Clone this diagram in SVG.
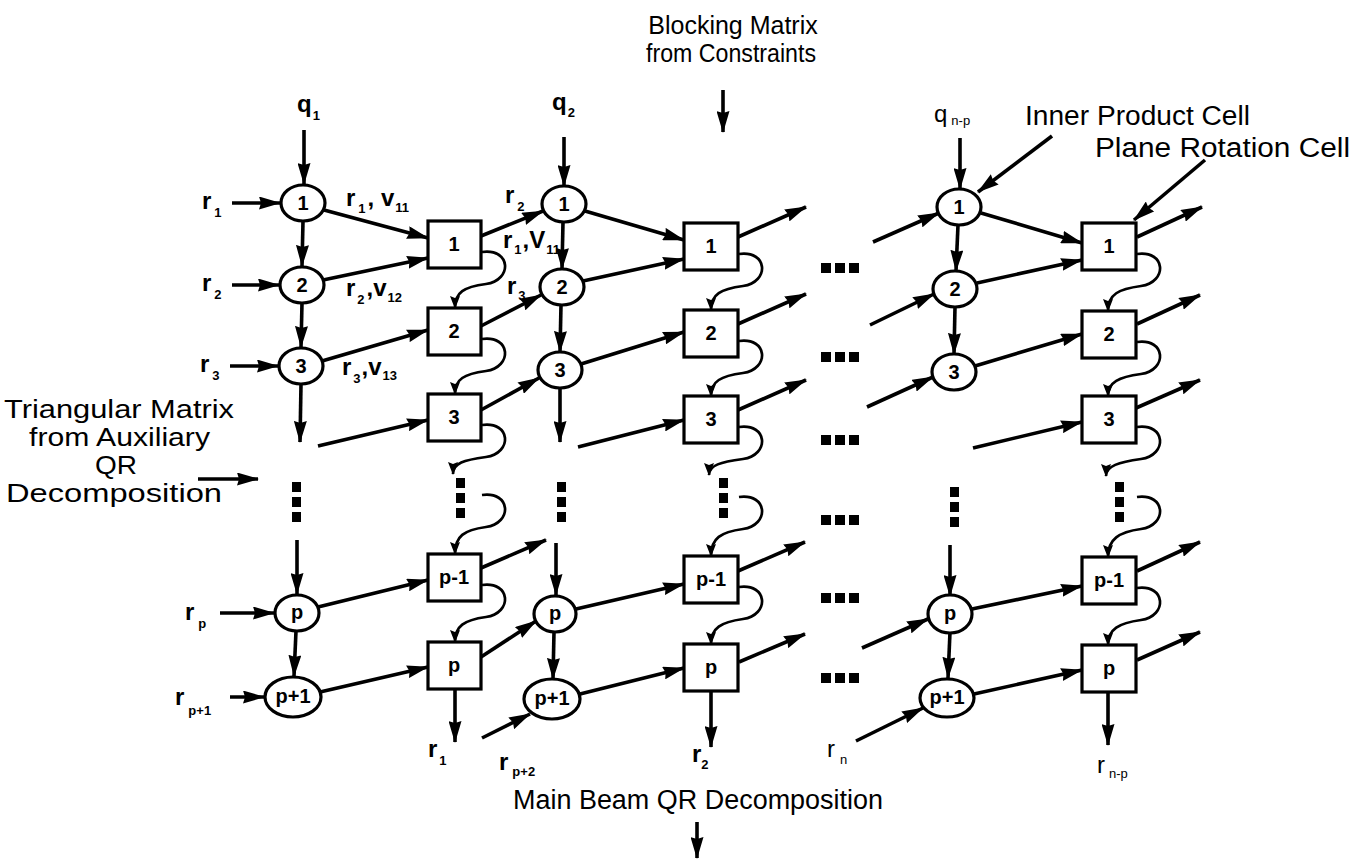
<svg xmlns="http://www.w3.org/2000/svg" width="1365" height="862" viewBox="0 0 1365 862">
<defs>
<marker id="ah" viewBox="0 0 22 13" markerWidth="22" markerHeight="13" refX="21" refY="6.5" orient="auto" markerUnits="userSpaceOnUse"><path d="M0,0 L22,6.5 L0,13 L2,6.5 Z" fill="#000"/></marker>
<marker id="as" viewBox="0 0 13 10" markerWidth="13" markerHeight="10" refX="12" refY="5" orient="auto" markerUnits="userSpaceOnUse"><path d="M0,0 L13,5 L0,10 L2,5 Z" fill="#000"/></marker>
<style>
.ln{stroke:#000;stroke-width:3.6;fill:none;marker-end:url(#ah)}
.cu{stroke:#000;stroke-width:2.7;fill:none;marker-end:url(#as)}
.nd{fill:#fff;stroke:#000;stroke-width:3.2}
.nl{font-family:"Liberation Sans",Arial,sans-serif;font-weight:bold;font-size:20px;text-anchor:middle}
.sy{font-family:"Liberation Sans",Arial,sans-serif;font-weight:bold;font-size:24px}
.sb{font-size:13px}
.tx{font-family:"Liberation Sans",Arial,sans-serif;font-size:26px}
.ts{font-family:"Liberation Sans",Arial,sans-serif;font-size:25px}
.tm{text-anchor:middle}
.dt{fill:#000}
</style>
</defs>
<rect width="1365" height="862" fill="#fff"/>

<g id="labels">
<text class="ts tm" x="733" y="34">Blocking Matrix</text>
<text class="ts tm" x="731" y="62" textLength="170" lengthAdjust="spacingAndGlyphs">from Constraints</text>
<text class="tx" x="1025" y="125" style="font-size:27px" textLength="225" lengthAdjust="spacingAndGlyphs">Inner Product Cell</text>
<text class="tx" x="1095" y="157" style="font-size:27px" textLength="255" lengthAdjust="spacingAndGlyphs">Plane Rotation Cell</text>
<text class="ts" x="4" y="418" textLength="230" lengthAdjust="spacingAndGlyphs">Triangular Matrix</text>
<text class="ts" x="29" y="446" textLength="181" lengthAdjust="spacingAndGlyphs">from Auxiliary</text>
<text class="ts" x="95" y="474" textLength="42" lengthAdjust="spacingAndGlyphs">QR</text>
<text class="ts" x="6" y="502" textLength="216" lengthAdjust="spacingAndGlyphs">Decomposition</text>
<text class="tx" x="513" y="809" style="font-size:27px" textLength="370" lengthAdjust="spacingAndGlyphs">Main Beam QR Decomposition</text>

<text class="sy" x="297" y="112">q<tspan class="sb" dx="1" dy="8">1</tspan></text>
<text class="sy" x="552" y="110">q<tspan class="sb" dx="1" dy="7">2</tspan></text>
<text class="sy" x="934" y="122" style="font-weight:normal">q<tspan class="sb" dx="4" dy="3">n-p</tspan></text>

<text class="sy" x="202" y="209">r<tspan class="sb" dx="3" dy="8">1</tspan></text>
<text class="sy" x="202" y="291">r<tspan class="sb" dx="3" dy="8">2</tspan></text>
<text class="sy" x="200" y="372">r<tspan class="sb" dx="3" dy="8">3</tspan></text>
<text class="sy" x="185" y="620">r<tspan class="sb" dx="4" dy="8">p</tspan></text>
<text class="sy" x="175" y="705">r<tspan class="sb" dx="4" dy="10">p+1</tspan></text>

<text class="sy" x="346" y="206">r<tspan class="sb" dx="3" dy="7">1</tspan><tspan dx="2" dy="-7">, v</tspan><tspan class="sb" dx="1" dy="6">11</tspan></text>
<text class="sy" x="346" y="296">r<tspan class="sb" dx="2" dy="8">2</tspan><tspan dx="2" dy="-8">,v</tspan><tspan class="sb" dx="1" dy="6">12</tspan></text>
<text class="sy" x="342" y="375">r<tspan class="sb" dx="2" dy="8">3</tspan><tspan dx="1" dy="-8">,v</tspan><tspan class="sb" dx="1" dy="5">13</tspan></text>
<text class="sy" x="505" y="203">r<tspan class="sb" dx="3" dy="8">2</tspan></text>
<text class="sy" x="503" y="248">r<tspan class="sb" dx="2" dy="6">1</tspan><tspan dx="1" dy="-6">,V</tspan><tspan class="sb" dx="1" dy="6">11</tspan></text>
<text class="sy" x="507" y="294">r<tspan class="sb" dx="2" dy="6">3</tspan></text>

<text class="sy" x="428" y="757">r<tspan class="sb" dx="2" dy="8">1</tspan></text>
<text class="sy" x="499" y="770">r<tspan class="sb" dx="4" dy="6">p+2</tspan></text>
<text class="sy" x="692" y="762">r<tspan class="sb" dx="0" dy="7">2</tspan></text>
<text class="sy" x="827" y="757" style="font-weight:normal">r<tspan class="sb" dx="5" dy="7">n</tspan></text>
<text class="sy" x="1097" y="773" style="font-weight:normal">r<tspan class="sb" dx="4" dy="5">n-p</tspan></text>
</g>

<g id="connectors">
<line class="ln" x1="723" y1="90" x2="723" y2="132"/>
<line class="ln" x1="1052" y1="136" x2="978" y2="192"/>
<line class="ln" x1="1205" y1="160" x2="1134" y2="220"/>
<line class="ln" x1="198" y1="479" x2="258" y2="479"/>
<line class="ln" x1="697" y1="822" x2="697" y2="858"/>

<line class="ln" x1="304" y1="130" x2="304" y2="184"/>
<line class="ln" x1="303" y1="221" x2="302" y2="266"/>
<line class="ln" x1="302" y1="303" x2="301" y2="347"/>
<line class="ln" x1="301" y1="384" x2="300" y2="442"/>
<line class="ln" x1="297" y1="540" x2="297" y2="594"/>
<line class="ln" x1="296" y1="631" x2="294" y2="676"/>
<line class="ln" x1="232" y1="203" x2="280" y2="203"/>
<line class="ln" x1="232" y1="285" x2="279" y2="285"/>
<line class="ln" x1="230" y1="366" x2="278" y2="366"/>
<line class="ln" x1="220" y1="613" x2="274" y2="613"/>
<line class="ln" x1="230" y1="697" x2="264" y2="697"/>
<line class="ln" x1="324" y1="210" x2="428" y2="238"/>
<line class="ln" x1="323" y1="280" x2="428" y2="258"/>
<line class="ln" x1="322" y1="361" x2="428" y2="330"/>
<line class="ln" x1="318" y1="446" x2="428" y2="420"/>
<line class="ln" x1="318" y1="607" x2="428" y2="580"/>
<line class="ln" x1="320" y1="692" x2="428" y2="667"/>

<line class="ln" x1="481" y1="236" x2="543" y2="211"/>
<line class="ln" x1="481" y1="326" x2="541" y2="295"/>
<line class="ln" x1="481" y1="410" x2="539" y2="378"/>
<line class="ln" x1="481" y1="568" x2="546" y2="540"/>
<line class="ln" x1="481" y1="657" x2="536" y2="621"/>
<line class="ln" x1="455" y1="689" x2="455" y2="742"/>
<path class="cu" d="M482,252 C511,248 513,280 486,284 C464,287 455,292 455,308"/>
<path class="cu" d="M482,339 C511,335 513,367 486,371 C464,374 455,379 455,394"/>
<path class="cu" d="M482,425 C511,421 513,453 486,457 C464,460 453,463 453,474"/>
<path class="cu" d="M482,495 C511,491 513,523 486,527 C464,530 455,536 455,554"/>
<path class="cu" d="M482,585 C511,581 513,613 486,617 C464,620 455,626 455,642"/>

<line class="ln" x1="564" y1="137" x2="564" y2="186"/>
<line class="ln" x1="563" y1="222" x2="562" y2="269"/>
<line class="ln" x1="561" y1="305" x2="560" y2="352"/>
<line class="ln" x1="560" y1="388" x2="560" y2="442"/>
<line class="ln" x1="556" y1="543" x2="556" y2="595"/>
<line class="ln" x1="554" y1="632" x2="553" y2="679"/>
<line class="ln" x1="482" y1="738" x2="530" y2="714"/>
<line class="ln" x1="585" y1="211" x2="684" y2="240"/>
<line class="ln" x1="583" y1="281" x2="684" y2="259"/>
<line class="ln" x1="581" y1="364" x2="684" y2="332"/>
<line class="ln" x1="578" y1="447" x2="684" y2="420"/>
<line class="ln" x1="576" y1="609" x2="684" y2="584"/>
<line class="ln" x1="580" y1="694" x2="684" y2="668"/>

<line class="ln" x1="738" y1="237" x2="806" y2="207"/>
<line class="ln" x1="738" y1="324" x2="806" y2="294"/>
<line class="ln" x1="738" y1="410" x2="806" y2="380"/>
<line class="ln" x1="738" y1="571" x2="805" y2="542"/>
<line class="ln" x1="739" y1="662" x2="805" y2="634"/>
<line class="ln" x1="711" y1="692" x2="711" y2="747"/>
<path class="cu" d="M739,254 C768,250 770,282 743,286 C721,289 711,294 711,310"/>
<path class="cu" d="M739,341 C768,337 770,369 743,373 C721,376 711,381 711,396"/>
<path class="cu" d="M739,427 C768,423 770,455 743,459 C721,462 709,465 709,475"/>
<path class="cu" d="M739,497 C768,493 770,525 743,529 C721,532 711,538 711,556"/>
<path class="cu" d="M739,587 C768,583 770,615 743,619 C721,622 711,628 711,644"/>

<line class="ln" x1="960" y1="138" x2="960" y2="189"/>
<line class="ln" x1="958" y1="225" x2="956" y2="271"/>
<line class="ln" x1="955" y1="307" x2="954" y2="354"/>
<line class="ln" x1="950" y1="545" x2="950" y2="596"/>
<line class="ln" x1="950" y1="632" x2="948" y2="678"/>
<line class="ln" x1="873" y1="242" x2="939" y2="213"/>
<line class="ln" x1="870" y1="325" x2="934" y2="294"/>
<line class="ln" x1="867" y1="407" x2="933" y2="377"/>
<line class="ln" x1="862" y1="648" x2="928" y2="619"/>
<line class="ln" x1="856" y1="741" x2="923" y2="708"/>
<line class="ln" x1="981" y1="213" x2="1082" y2="243"/>
<line class="ln" x1="977" y1="283" x2="1082" y2="260"/>
<line class="ln" x1="975" y1="366" x2="1082" y2="334"/>
<line class="ln" x1="973" y1="448" x2="1082" y2="422"/>
<line class="ln" x1="972" y1="609" x2="1082" y2="586"/>
<line class="ln" x1="974" y1="694" x2="1082" y2="670"/>

<line class="ln" x1="1137" y1="237" x2="1202" y2="207"/>
<line class="ln" x1="1137" y1="324" x2="1200" y2="295"/>
<line class="ln" x1="1136" y1="408" x2="1200" y2="380"/>
<line class="ln" x1="1137" y1="571" x2="1200" y2="542"/>
<line class="ln" x1="1137" y1="660" x2="1200" y2="632"/>
<line class="ln" x1="1108" y1="693" x2="1108" y2="745"/>
<path class="cu" d="M1137,254 C1166,250 1168,282 1141,286 C1119,289 1108,294 1108,311"/>
<path class="cu" d="M1137,342 C1166,338 1168,370 1141,374 C1119,377 1108,382 1108,396"/>
<path class="cu" d="M1137,427 C1166,423 1168,455 1141,459 C1119,462 1106,466 1106,476"/>
<path class="cu" d="M1137,497 C1166,493 1168,525 1141,529 C1119,532 1108,539 1108,557"/>
<path class="cu" d="M1137,588 C1166,584 1168,616 1141,620 C1119,623 1108,629 1108,645"/>
</g>

<g id="dots" class="dt">
<rect x="292" y="482" width="9" height="10"/><rect x="292" y="497" width="9" height="10"/><rect x="292" y="512" width="9" height="10"/>
<rect x="456" y="478" width="9" height="10"/><rect x="456" y="493" width="9" height="10"/><rect x="456" y="508" width="9" height="10"/>
<rect x="557" y="482" width="9" height="10"/><rect x="557" y="497" width="9" height="10"/><rect x="557" y="512" width="9" height="10"/>
<rect x="719" y="478" width="9" height="10"/><rect x="719" y="493" width="9" height="10"/><rect x="719" y="508" width="9" height="10"/>
<rect x="950" y="487" width="9" height="10"/><rect x="950" y="502" width="9" height="10"/><rect x="950" y="517" width="9" height="10"/>
<rect x="1115" y="482" width="9" height="10"/><rect x="1115" y="497" width="9" height="10"/><rect x="1115" y="512" width="9" height="10"/>
<rect x="821" y="263" width="10" height="10"/><rect x="835" y="263" width="10" height="10"/><rect x="849" y="263" width="10" height="10"/>
<rect x="821" y="352" width="10" height="10"/><rect x="835" y="352" width="10" height="10"/><rect x="849" y="352" width="10" height="10"/>
<rect x="821" y="435" width="10" height="10"/><rect x="835" y="435" width="10" height="10"/><rect x="849" y="435" width="10" height="10"/>
<rect x="821" y="515" width="10" height="10"/><rect x="835" y="515" width="10" height="10"/><rect x="849" y="515" width="10" height="10"/>
<rect x="821" y="593" width="10" height="10"/><rect x="835" y="593" width="10" height="10"/><rect x="849" y="593" width="10" height="10"/>
<rect x="821" y="673" width="10" height="10"/><rect x="835" y="673" width="10" height="10"/><rect x="849" y="673" width="10" height="10"/>
</g>

<g id="c1-1"><ellipse class="nd" cx="303" cy="203" rx="22" ry="18"/><text class="nl" x="303" y="210">1</text></g>
<g id="c1-2"><ellipse class="nd" cx="302" cy="285" rx="22" ry="18"/><text class="nl" x="302" y="292">2</text></g>
<g id="c1-3"><ellipse class="nd" cx="301" cy="366" rx="22" ry="18"/><text class="nl" x="301" y="373">3</text></g>
<g id="c1-p"><ellipse class="nd" cx="297" cy="613" rx="22" ry="18"/><text class="nl" x="297" y="619">p</text></g>
<g id="c1-p1"><ellipse class="nd" cx="293" cy="697" rx="28" ry="20"/><text class="nl" x="293" y="703">p+1</text></g>

<g id="c2-1"><ellipse class="nd" cx="564" cy="204" rx="22" ry="18"/><text class="nl" x="564" y="211">1</text></g>
<g id="c2-2"><ellipse class="nd" cx="562" cy="287" rx="22" ry="18"/><text class="nl" x="562" y="294">2</text></g>
<g id="c2-3"><ellipse class="nd" cx="560" cy="370" rx="22" ry="18"/><text class="nl" x="560" y="377">3</text></g>
<g id="c2-p"><ellipse class="nd" cx="555" cy="614" rx="21" ry="18"/><text class="nl" x="555" y="620">p</text></g>
<g id="c2-p1"><ellipse class="nd" cx="552" cy="699" rx="28" ry="20"/><text class="nl" x="552" y="705">p+1</text></g>

<g id="c3-1"><ellipse class="nd" cx="959" cy="207" rx="22" ry="18"/><text class="nl" x="959" y="214">1</text></g>
<g id="c3-2"><ellipse class="nd" cx="955" cy="289" rx="22" ry="18"/><text class="nl" x="955" y="296">2</text></g>
<g id="c3-3"><ellipse class="nd" cx="954" cy="372" rx="22" ry="18"/><text class="nl" x="954" y="379">3</text></g>
<g id="c3-p"><ellipse class="nd" cx="950" cy="614" rx="22" ry="19"/><text class="nl" x="950" y="620">p</text></g>
<g id="c3-p1"><ellipse class="nd" cx="947" cy="698" rx="27" ry="19"/><text class="nl" x="947" y="704">p+1</text></g>

<g id="b1-1"><rect class="nd" x="428" y="221" width="53" height="47"/><text class="nl" x="454" y="251">1</text></g>
<g id="b1-2"><rect class="nd" x="428" y="308" width="53" height="47"/><text class="nl" x="454" y="338">2</text></g>
<g id="b1-3"><rect class="nd" x="428" y="394" width="53" height="47"/><text class="nl" x="454" y="424">3</text></g>
<g id="b1-pm1"><rect class="nd" x="428" y="554" width="53" height="47"/><text class="nl" x="454" y="584">p-1</text></g>
<g id="b1-p"><rect class="nd" x="428" y="642" width="53" height="47"/><text class="nl" x="454" y="672">p</text></g>

<g id="b2-1"><rect class="nd" x="684" y="223" width="54" height="47"/><text class="nl" x="711" y="253">1</text></g>
<g id="b2-2"><rect class="nd" x="684" y="310" width="54" height="47"/><text class="nl" x="711" y="340">2</text></g>
<g id="b2-3"><rect class="nd" x="684" y="396" width="54" height="47"/><text class="nl" x="711" y="426">3</text></g>
<g id="b2-pm1"><rect class="nd" x="684" y="556" width="54" height="47"/><text class="nl" x="711" y="586">p-1</text></g>
<g id="b2-p"><rect class="nd" x="684" y="644" width="54" height="47"/><text class="nl" x="711" y="674">p</text></g>

<g id="b3-1"><rect class="nd" x="1082" y="223" width="54" height="47"/><text class="nl" x="1109" y="253">1</text></g>
<g id="b3-2"><rect class="nd" x="1082" y="311" width="54" height="47"/><text class="nl" x="1109" y="341">2</text></g>
<g id="b3-3"><rect class="nd" x="1082" y="396" width="54" height="47"/><text class="nl" x="1109" y="426">3</text></g>
<g id="b3-pm1"><rect class="nd" x="1082" y="557" width="54" height="47"/><text class="nl" x="1109" y="587">p-1</text></g>
<g id="b3-p"><rect class="nd" x="1082" y="645" width="54" height="47"/><text class="nl" x="1109" y="675">p</text></g>
</svg>
